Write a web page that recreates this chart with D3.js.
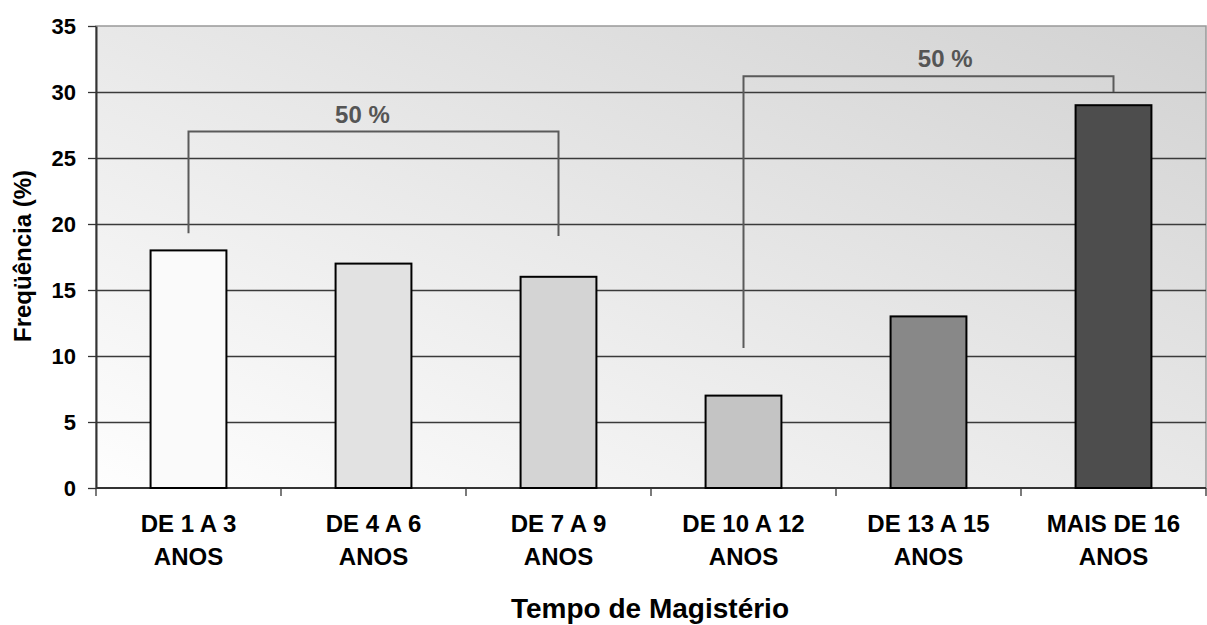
<!DOCTYPE html>
<html><head><meta charset="utf-8">
<script src="https://cdn.jsdelivr.net/npm/d3@7"></script>
<style>body{margin:0;background:#fff}svg{display:block}text{font-family:"Liberation Sans",Arial,sans-serif;font-weight:bold}</style>
</head><body>
<script>
const categories = [["DE 1 A 3","ANOS"],["DE 4 A 6","ANOS"],["DE 7 A 9","ANOS"],["DE 10 A 12","ANOS"],["DE 13 A 15","ANOS"],["MAIS DE 16","ANOS"]];
const values = [18, 17, 16, 7, 13, 29];
const barColors = ["#fafafa","#e2e2e2","#d4d4d4","#c4c4c4","#888888","#4d4d4d"];
const yTicks = [0,5,10,15,20,25,30,35];
// brackets: from category index, to category index, top value, left foot, right foot, label, label position (category units)
const brackets = [
  {from:0, to:2, top:27, footL:19.3, footR:19.1, label:"50 %", labelAt:0.94},
  {from:3, to:5, top:31.2, footL:10.6, footR:30.0, label:"50 %", labelAt:4.09}
];

const W=1207, H=625;
const m={left:96, right:1206, top:26, bottom:488};
const svg=d3.select("body").append("svg").attr("width",W).attr("height",H);

const x=d3.scaleBand().domain(d3.range(categories.length)).range([m.left,m.right]).paddingInner(0.59).paddingOuter(0.295);
const xb=d3.scaleBand().domain(d3.range(categories.length)).range([m.left,m.right]);
const xc=d3.scaleLinear().domain([-0.5,categories.length-0.5]).range([m.left,m.right]);
const y=d3.scaleLinear().domain([0,35]).range([m.bottom,m.top]);

const defs=svg.append("defs");
const g=defs.append("linearGradient").attr("id","bg").attr("x1","0%").attr("y1","100%").attr("x2","100%").attr("y2","0%");
g.append("stop").attr("offset","0%").attr("stop-color","#fefefe");
g.append("stop").attr("offset","100%").attr("stop-color","#d2d2d2");

svg.append("rect").attr("x",m.left).attr("y",m.top).attr("width",m.right-m.left).attr("height",m.bottom-m.top)
  .attr("fill","url(#bg)").attr("stroke","#999").attr("stroke-width",1.5);

// gridlines
svg.append("g").selectAll("line").data(yTicks.filter(d=>d>0&&d<35)).join("line")
  .attr("x1",m.left).attr("x2",m.right).attr("y1",d=>y(d)+0.5).attr("y2",d=>y(d)+0.5)
  .attr("stroke","#3a3a3a").attr("stroke-width",1.3);

// y axis
const ya=svg.append("g").attr("transform",`translate(${m.left},0)`)
  .call(d3.axisLeft(y).tickValues(yTicks).tickSize(8).tickPadding(12).tickSizeOuter(0));
ya.select(".domain").attr("stroke","#333").attr("stroke-width",2);
ya.selectAll(".tick line").attr("stroke","#333").attr("stroke-width",1.3);
ya.selectAll(".tick text").attr("font-size",22).attr("fill","#000").attr("font-family","Liberation Sans, Arial").attr("font-weight","bold").attr("dy","0.35em");

// x axis ticks at band boundaries
const xTickPos=d3.range(categories.length+1).map(i=>m.left+i*xb.bandwidth());
svg.append("line").attr("x1",m.left).attr("x2",m.right).attr("y1",m.bottom).attr("y2",m.bottom).attr("stroke","#333").attr("stroke-width",2);
svg.append("g").selectAll("line").data(xTickPos).join("line")
  .attr("x1",d=>d).attr("x2",d=>d).attr("y1",m.bottom).attr("y2",m.bottom+8).attr("stroke","#333").attr("stroke-width",1.3);

// bars
svg.append("g").selectAll("rect").data(values).join("rect")
  .attr("x",(d,i)=>x(i)).attr("width",x.bandwidth())
  .attr("y",d=>y(d)).attr("height",d=>y(0)-y(d))
  .attr("fill",(d,i)=>barColors[i]).attr("stroke","#000").attr("stroke-width",2);

// x labels
const xl=svg.append("g").selectAll("text").data(categories).join("text")
  .attr("x",(d,i)=>xb(i)+xb.bandwidth()/2).attr("text-anchor","middle").attr("font-size",24).attr("fill","#000");
xl.each(function(d){
  const t=d3.select(this);
  t.append("tspan").attr("x",t.attr("x")).attr("y",532).text(d[0]);
  t.append("tspan").attr("x",t.attr("x")).attr("y",565).text(d[1]);
});

// brackets
brackets.forEach(b=>{
  const x1=xc(b.from), x2=xc(b.to);
  svg.append("path").attr("d",`M${x1},${y(b.footL)}V${y(b.top)}H${x2}V${y(b.footR)}`)
    .attr("fill","none").attr("stroke","#5a5a5a").attr("stroke-width",2);
  svg.append("text").attr("x",xc(b.labelAt)).attr("y",y(b.top)-9).attr("text-anchor","middle")
    .attr("font-size",24).attr("fill","#555").text(b.label);
});

// axis titles
svg.append("text").attr("transform",`translate(31,256) rotate(-90)`).attr("text-anchor","middle")
  .attr("font-size",24).attr("fill","#000").text("Freqüência (%)");
svg.append("text").attr("x",650).attr("y",618).attr("text-anchor","middle")
  .attr("font-size",28).attr("fill","#000").text("Tempo de Magistério");
</script>
</body></html>
